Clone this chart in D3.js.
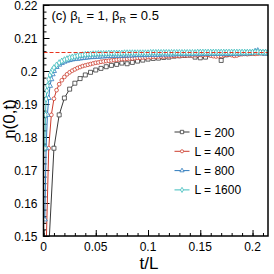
<!DOCTYPE html>
<html>
<head>
<meta charset="utf-8">
<script src="https://cdn.jsdelivr.net/npm/d3@7"></script>
<style>
  body { margin: 0; background: #fff; }
  svg { display: block; font-family: "Liberation Sans", Arial, sans-serif; }
  .tick-label { font-size: 12px; fill: #000; }
  .leg { font-size: 12px; fill: #000; }
</style>
</head>
<body>
<svg id="chart" width="274" height="274"></svg>
<script>
// ---- data (t/L, n(0,t)) ----
const tL200 = [0.005,0.010,0.015,0.020,0.025,0.030,0.035,0.040,0.045,0.050,0.055,0.060,0.065,0.070,0.075,0.080,0.085,0.090,0.095,0.100,0.105,0.110,0.115,0.120,0.125,0.130,0.135,0.140,0.145,0.150,0.155,0.160,0.165,0.170,0.175,0.180,0.185,0.190,0.195,0.200,0.205,0.210,0.215];
const n200 = [0.1460,0.1766,0.1867,0.1918,0.1945,0.1963,0.1977,0.1988,0.1996,0.2003,0.2008,0.2013,0.2017,0.2020,0.2024,0.2022,0.2026,0.2030,0.2033,0.2036,0.2038,0.2039,0.2041,0.2042,0.2045,0.2046,0.2047,0.2048,0.2042,0.2040,0.2042,0.2049,0.2050,0.2032,0.2049,0.2052,0.2053,0.2053,0.2054,0.2054,0.2055,0.2056,0.2055];

const tL400 = [0.0025,0.0050,0.0075,0.0100,0.0125,0.0150,0.0175,0.0200,0.0225,0.0250,0.0275,0.0300,0.0325,0.0350,0.0375,0.0400,0.0425,0.0450,0.0475,0.0500,0.0525,0.0550,0.0575,0.0600,0.0625,0.0650,0.0675,0.0700,0.0725,0.0750,0.0775,0.0800,0.0825,0.0850,0.0875,0.0900,0.0925,0.0950,0.0975,0.1000,0.1025,0.1050,0.1075,0.1100,0.1125,0.1150,0.1175,0.1200,0.1225,0.1250,0.1275,0.1300,0.1325,0.1350,0.1375,0.1400,0.1425,0.1450,0.1475,0.1500,0.1525,0.1550,0.1575,0.1600,0.1625,0.1650,0.1675,0.1700,0.1725,0.1750,0.1775,0.1800,0.1825,0.1850,0.1875,0.1900,0.1925,0.1950,0.1975,0.2000,0.2025,0.2050,0.2075,0.2100,0.2125,0.2150];
const n400 = [0.1460,0.1766,0.1867,0.1916,0.1942,0.1960,0.1972,0.1982,0.1990,0.1996,0.2001,0.2005,0.2009,0.2012,0.2015,0.2017,0.2019,0.2021,0.2023,0.2025,0.2026,0.2028,0.2029,0.2030,0.2031,0.2032,0.2033,0.2034,0.2035,0.2036,0.2036,0.2037,0.2038,0.2038,0.2039,0.2040,0.2040,0.2041,0.2041,0.2042,0.2042,0.2043,0.2043,0.2044,0.2044,0.2044,0.2045,0.2045,0.2045,0.2046,0.2046,0.2046,0.2047,0.2047,0.2047,0.2048,0.2047,0.2048,0.2048,0.2049,0.2048,0.2049,0.2049,0.2047,0.2045,0.2044,0.2045,0.2046,0.2048,0.2049,0.2050,0.2048,0.2046,0.2047,0.2050,0.2051,0.2052,0.2051,0.2052,0.2053,0.2052,0.2053,0.2054,0.2053,0.2054,0.2054];

const tL800 = [0.00125,0.0025,0.00375,0.0050,0.00625,0.0075,0.00875,0.0100,0.0125,0.0150,0.0175,0.0200,0.0225,0.0250,0.0275,0.0300,0.0325,0.0350,0.0375,0.0400,0.0425,0.0450,0.0475,0.0500,0.0525,0.0550,0.0575,0.0600,0.0625,0.0650,0.0675,0.0700,0.0725,0.0750,0.0775,0.0800,0.0825,0.0850,0.0875,0.0900,0.0925,0.0950,0.0975,0.1000,0.1025,0.1050,0.1075,0.1100,0.1125,0.1150,0.1175,0.1200,0.1225,0.1250,0.1275,0.1300,0.1325,0.1350,0.1375,0.1400,0.1425,0.1450,0.1475,0.1500,0.1525,0.1550,0.1575,0.1600,0.1625,0.1650,0.1675,0.1700,0.1725,0.1750,0.1775,0.1800,0.1825,0.1850,0.1875,0.1900,0.1925,0.1950,0.1975,0.2000,0.2025,0.2050,0.2075,0.2100,0.2125,0.2150];
const n800 = [0.1550,0.1766,0.1867,0.1918,0.1955,0.1975,0.1990,0.2000,0.2012,0.2019,0.2024,0.2028,0.2031,0.2033,0.2035,0.2036,0.2037,0.2038,0.2039,0.2040,0.2041,0.2042,0.2042,0.2043,0.2043,0.2044,0.2044,0.2045,0.2045,0.2045,0.2046,0.2046,0.2046,0.2046,0.2047,0.2047,0.2047,0.2047,0.2048,0.2048,0.2048,0.2048,0.2048,0.2049,0.2049,0.2049,0.2049,0.2049,0.2050,0.2050,0.2050,0.2050,0.2050,0.2050,0.2051,0.2051,0.2051,0.2051,0.2051,0.2051,0.2051,0.2051,0.2051,0.2051,0.2052,0.2052,0.2052,0.2052,0.2052,0.2052,0.2052,0.2052,0.2052,0.2052,0.2052,0.2052,0.2052,0.2052,0.2053,0.2053,0.2053,0.2053,0.2054,0.2056,0.2060,0.2062,0.2055,0.2053,0.2053,0.2053];

const tL1600 = [0.00125,0.001875,0.0025,0.003125,0.00375,0.0050,0.00625,0.0075,0.00875,0.0100,0.0125,0.0150,0.0175,0.0200,0.0225,0.0250,0.0275,0.0300,0.0325,0.0350,0.0375,0.0400,0.0425,0.0450,0.0475,0.0500,0.0525,0.0550,0.0575,0.0600,0.0625,0.0650,0.0675,0.0700,0.0725,0.0750,0.0775,0.0800,0.0825,0.0850,0.0875,0.0900,0.0925,0.0950,0.0975,0.1000,0.1025,0.1050,0.1075,0.1100,0.1125,0.1150,0.1175,0.1200,0.1225,0.1250,0.1275,0.1300,0.1325,0.1350,0.1375,0.1400,0.1425,0.1450,0.1475,0.1500,0.1525,0.1550,0.1575,0.1600,0.1625,0.1650,0.1675,0.1700,0.1725,0.1750,0.1775,0.1800,0.1825,0.1850,0.1875,0.1900,0.1925,0.1950,0.1975,0.2000,0.2025,0.2050,0.2075,0.2100,0.2125,0.2150];
const n1600 = [0.1766,0.1867,0.1915,0.1940,0.1955,0.1975,0.1988,0.1997,0.2004,0.2010,0.2018,0.2025,0.2030,0.2034,0.2037,0.2040,0.2042,0.2044,0.2046,0.2048,0.2049,0.2050,0.2051,0.2051,0.2052,0.2052,0.2053,0.2053,0.2053,0.2053,0.2054,0.2054,0.2054,0.2054,0.2054,0.2054,0.2055,0.2055,0.2055,0.2055,0.2055,0.2055,0.2055,0.2055,0.2055,0.2055,0.2056,0.2056,0.2056,0.2056,0.2056,0.2056,0.2056,0.2056,0.2056,0.2056,0.2056,0.2056,0.2056,0.2056,0.2056,0.2056,0.2056,0.2056,0.2057,0.2057,0.2057,0.2057,0.2057,0.2057,0.2057,0.2057,0.2057,0.2057,0.2057,0.2057,0.2057,0.2057,0.2057,0.2057,0.2057,0.2057,0.2057,0.2057,0.2057,0.2057,0.2058,0.2058,0.2057,0.2057,0.2057,0.2057];

const nStationary = 0.2059;

const series = [
  { label: 'L = 200',  t: tL200,  n: n200,  color: '#3a3a3a', symbol: d3.symbolSquare,   size: 16 },
  { label: 'L = 400',  t: tL400,  n: n400,  color: '#cc3d2e', symbol: d3.symbolCircle,   size: 11 },
  { label: 'L = 800',  t: tL800,  n: n800,  color: '#2f7bbd', symbol: d3.symbolTriangle, size: 11 },
  { label: 'L = 1600', t: tL1600, n: n1600, color: '#3dbdbd', symbol: d3.symbolDiamond,  size: 11 }
];

const xTicks = [0, 0.05, 0.1, 0.15, 0.2];
const xTickLabels = ['0', '0.05', '0.1', '0.15', '0.2'];
const yTicks = [0.15, 0.16, 0.17, 0.18, 0.19, 0.2, 0.21, 0.22];
const yTickLabels = ['0.15', '0.16', '0.17', '0.18', '0.19', '0.2', '0.21', '0.22'];

// ---- layout ----
const MARGIN = { top: 5, right: 6, bottom: 38, left: 43.5 };
const W = 274, H = 274;
const width = W - MARGIN.left - MARGIN.right;
const height = H - MARGIN.top - MARGIN.bottom;

const $svg = d3.select('#chart');
const $g = $svg.append('g').attr('transform', `translate(${MARGIN.left},${MARGIN.top})`);

const x = d3.scaleLinear().domain([0, 0.2148]).range([0, width]);
const y = d3.scaleLinear().domain([0.15, 0.22]).range([height, 0]);

$svg.append('defs').append('clipPath').attr('id', 'clip')
  .append('rect').attr('width', width).attr('height', height);

// ticks (inward) via d3 axes
const xMinor = d3.range(0, 0.2148, 0.01);
const yMinor = d3.range(0.15, 0.2201, 0.002);

function inwardAxis(axisFn, scale, values, size, transform) {
  $g.append('g')
    .attr('transform', transform)
    .call(axisFn(scale).tickValues(values).tickSize(size).tickFormat(''))
    .call(s => s.select('.domain').remove())
    .call(s => s.selectAll('line').attr('stroke', '#000').attr('stroke-width', 1));
}
inwardAxis(d3.axisTop, x, xMinor, 3, `translate(0,${height})`);
inwardAxis(d3.axisTop, x, xTicks, 6, `translate(0,${height})`);
inwardAxis(d3.axisRight, y, yMinor, 3, 'translate(0,0)');
inwardAxis(d3.axisRight, y, yTicks, 6, 'translate(0,0)');

// tick labels
$g.append('g').selectAll('text').data(xTicks).join('text')
  .attr('class', 'tick-label')
  .attr('x', d => x(d))
  .attr('y', height + 15)
  .attr('text-anchor', 'middle')
  .text((d, i) => xTickLabels[i]);

$g.append('g').selectAll('text').data(yTicks).join('text')
  .attr('class', 'tick-label')
  .attr('x', -6)
  .attr('y', d => y(d) + 4.5)
  .attr('text-anchor', 'end')
  .text((d, i) => yTickLabels[i]);

// curves
const line = d3.line().x(d => x(d[0])).y(d => y(d[1]));
const $plot = $g.append('g').attr('clip-path', 'url(#clip)');

series.forEach(s => {
  const pts = s.t.map((t, i) => [t, s.n[i]]);
  $plot.append('path')
    .datum(pts)
    .attr('fill', 'none')
    .attr('stroke', s.color)
    .attr('stroke-width', 1)
    .attr('d', line);
  $plot.append('g').selectAll('path').data(pts).join('path')
    .attr('transform', d => `translate(${x(d[0])},${y(d[1])})`)
    .attr('d', d3.symbol(s.symbol, s.size))
    .attr('fill', '#fff')
    .attr('stroke', s.color)
    .attr('stroke-width', 0.8);
});

// stationary value (drawn on top, snapped to the pixel grid)
const yStat = Math.round(y(nStationary)) + 0.5;
$g.append('line')
  .attr('x1', 0).attr('x2', width)
  .attr('y1', yStat).attr('y2', yStat)
  .attr('stroke', '#e8341f').attr('stroke-width', 1)
  .attr('stroke-dasharray', '4,2');

// frame
$g.append('rect')
  .attr('width', width).attr('height', height)
  .attr('fill', 'none').attr('stroke', '#000').attr('stroke-width', 1.5);

// legend
const $leg = $g.append('g').attr('transform', 'translate(131,127)');
series.forEach((s, i) => {
  const $row = $leg.append('g').attr('transform', `translate(0,${i * 19.3})`);
  $row.append('line').attr('x1', 0).attr('x2', 15).attr('stroke', s.color).attr('stroke-width', 1);
  $row.append('path').attr('transform', 'translate(7.5,0)')
    .attr('d', d3.symbol(s.symbol, s.size * 0.7))
    .attr('fill', '#fff').attr('stroke', s.color).attr('stroke-width', 0.8);
  $row.append('text').attr('class', 'leg').attr('x', 20).attr('y', 4.5).text(s.label);
});

// title
const $title = $g.append('text').attr('x', 8).attr('y', 14.5).style('font-size', '13px');
$title.append('tspan').text('(c) β');
$title.append('tspan').attr('dy', 3.5).style('font-size', '9px').text('L');
$title.append('tspan').attr('dy', -3.5).text(' = 1, β');
$title.append('tspan').attr('dy', 3.5).style('font-size', '9px').text('R');
$title.append('tspan').attr('dy', -3.5).text(' = 0.5');

// axis titles
$svg.append('text')
  .attr('x', 149).attr('y', 269)
  .attr('text-anchor', 'middle')
  .style('font-size', '17px')
  .text('t/L');

$svg.append('text')
  .attr('transform', 'translate(15,119) rotate(-90)')
  .attr('text-anchor', 'middle')
  .style('font-size', '17px')
  .text('n(0,t)');
</script>
</body>
</html>
